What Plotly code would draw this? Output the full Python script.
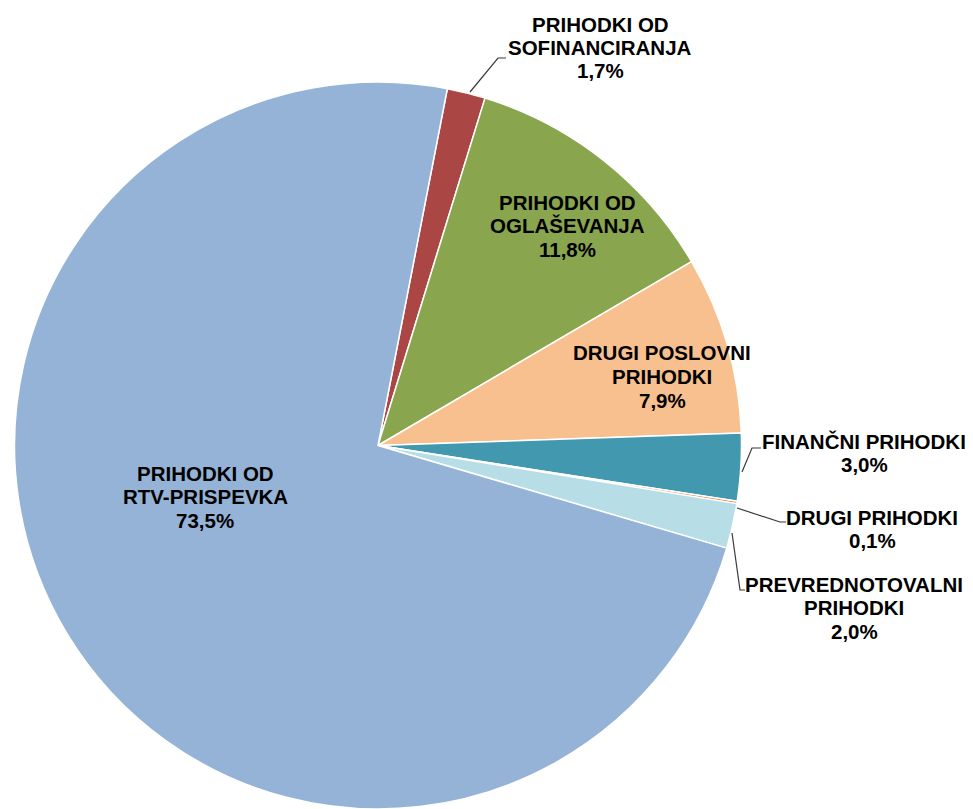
import plotly.graph_objects as go

# ---- data ----
categories = [
    "PRIHODKI OD SOFINANCIRANJA",
    "PRIHODKI OD OGLAŠEVANJA",
    "DRUGI POSLOVNI PRIHODKI",
    "FINANČNI PRIHODKI",
    "DRUGI PRIHODKI",
    "PREVREDNOTOVALNI PRIHODKI",
    "PRIHODKI OD RTV-PRISPEVKA",
]
label_lines = [
    ["PRIHODKI OD", "SOFINANCIRANJA"],
    ["PRIHODKI OD", "OGLAŠEVANJA"],
    ["DRUGI POSLOVNI", "PRIHODKI"],
    ["FINANČNI PRIHODKI"],
    ["DRUGI PRIHODKI"],
    ["PREVREDNOTOVALNI", "PRIHODKI"],
    ["PRIHODKI OD", "RTV-PRISPEVKA"],
]
shares = [1.7, 11.8, 7.9, 3.0, 0.1, 2.0, 73.5]
colors = ["#AA4643", "#89A54E", "#F9C08F", "#4198AF", "#E8843D", "#B7DDE7", "#95B3D7"]

# page offset (body margin) and figure size
OFF = 8
W, H = 973 - 2 * OFF, 809 - OFF

# label placement (screen pixels): center x, first line y
label_pos = [
    (600, 24),
    (567, 202),
    (662, 353),
    (864, 441),
    (872, 517),
    (854, 584),
    (205, 473),
]
line_gap = 23.5

# leader lines (screen pixels)
leaders = [
    [(470, 92), (498, 58), (506, 58)],
    None,
    None,
    [(742, 472), (752, 448), (761, 448)],
    [(737, 508), (780, 522), (786, 522)],
    [(732, 533), (740, 590), (745, 590)],
    None,
]


def px(x):
    return (x - OFF) / W


def py(y):
    return 1 - (y - OFF) / H


fig = go.Figure()
fig.add_trace(go.Pie(
    labels=categories,
    values=shares,
    sort=False,
    direction="clockwise",
    rotation=11,
    textinfo="none",
    marker=dict(colors=colors, line=dict(color="white", width=1.5)),
    domain=dict(x=[px(14), px(742)], y=[0, py(82)]),
    showlegend=False,
))

annotations = []
for lines, val, (cx, cy) in zip(label_lines, shares, label_pos):
    all_lines = lines + [f"{val:.1f}".replace(".", ",") + "%"]
    for i, t in enumerate(all_lines):
        annotations.append(dict(
            x=px(cx), y=py(cy + i * line_gap), xref="paper", yref="paper",
            text=f"<b>{t}</b>", showarrow=False, xanchor="center", yanchor="middle",
            font=dict(family="Liberation Sans, Arial, sans-serif", size=20.5, color="#000000"),
        ))

shapes = []
for pts in leaders:
    if not pts:
        continue
    path = "M " + " L ".join(f"{px(x)},{py(y)}" for x, y in pts)
    shapes.append(dict(type="path", path=path, xref="paper", yref="paper",
                       line=dict(color="#3a3a3a", width=1.2)))

fig.update_layout(
    width=W, height=H,
    margin=dict(l=0, r=0, t=0, b=0),
    paper_bgcolor="white",
    plot_bgcolor="white",
    annotations=annotations,
    shapes=shapes,
)

fig.write_html("out.html")
